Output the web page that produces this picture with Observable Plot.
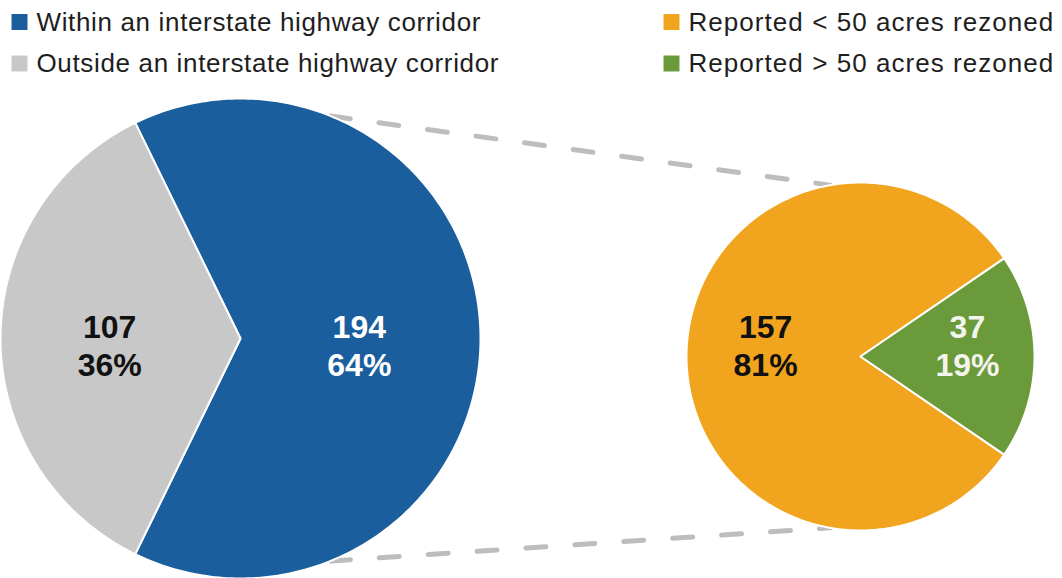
<!DOCTYPE html>
<html><head><meta charset="utf-8">
<script src="https://cdn.jsdelivr.net/npm/d3@7"></script>
<script src="https://cdn.jsdelivr.net/npm/@observablehq/plot@0.6"></script>
<style>
html,body{margin:0;padding:0;background:#fff;overflow:hidden;}
#chart svg{display:block;}
</style></head><body><div id="chart"></div>
<script>
// ---- data ----
const mainCategories = ["Within an interstate highway corridor", "Outside an interstate highway corridor"];
const mainValues = [194, 107];
const mainColors = ["#1b5e9e", "#c8c8c8"];
const subCategories = ["Reported < 50 acres rezoned", "Reported > 50 acres rezoned"];
const subValues = [157, 37];
const subColors = ["#f1a51e", "#6b9a3a"];

// ---- layout ----
const W = 1062, H = 578;
const leftPie = {cx: 240, cy: 338, r: 240, focus: 1, focusAngle: 180, labelR: 0.52};
const rightPie = {cx: 860, cy: 356, r: 174, focus: 1, focusAngle: 0, labelR: 0.58};
const rad = d => d * Math.PI / 180;

function buildPie(cats, vals, pie) {
  const total = d3.sum(vals);
  const fv = vals[pie.focus];
  const half = fv / total * 180;
  const ranges = [];
  ranges[pie.focus] = [pie.focusAngle - half, pie.focusAngle + half];
  const other = 1 - pie.focus;
  ranges[other] = [pie.focusAngle + half, pie.focusAngle - half + 360];
  const pts = [], labels = [];
  cats.forEach((c, i) => {
    const [a0, a1] = ranges[i];
    pts.push({cat: c, x: pie.cx, y: pie.cy});
    const n = Math.ceil(a1 - a0);
    for (let k = 0; k <= n; k++) {
      const a = rad(a0 + (a1 - a0) * k / n);
      pts.push({cat: c, x: pie.cx + pie.r * Math.cos(a), y: pie.cy + pie.r * Math.sin(a)});
    }
    const m = rad((a0 + a1) / 2);
    labels.push({
      cat: c,
      x: pie.cx + pie.labelR * pie.r * Math.cos(m),
      y: pie.cy + pie.labelR * pie.r * Math.sin(m),
      text: `${vals[i]}\n${Math.round(vals[i] / total * 100)}%`
    });
  });
  return {pts, labels};
}

const L = buildPie(mainCategories, mainValues, leftPie);
const R = buildPie(subCategories, subValues, rightPie);

const onPie = (p, deg) => [p.cx + p.r * Math.cos(rad(deg)), p.cy + p.r * Math.sin(rad(deg))];
const connectors = [[-68, -100], [68, 100]].map(([a, b]) => {
  const [x1, y1] = onPie(leftPie, a), [x2, y2] = onPie(rightPie, b);
  return {x1, y1, x2, y2};
});

const legendItems = [
  ...mainCategories.map((c, i) => ({cat: c, col: 0, row: i})),
  ...subCategories.map((c, i) => ({cat: c, col: 1, row: i}))
];
const legendX = [19, 671];
const legendRow = i => 21.5 + i * 41.5;

const darkText = new Set([mainCategories[1], subCategories[0]]);

const chart = Plot.plot({
  width: W, height: H,
  margin: 0,
  style: {fontFamily: "'Liberation Sans', Arial, Helvetica, sans-serif", background: "#fff"},
  x: {domain: [0, W], range: [0, W], axis: null},
  y: {domain: [0, H], range: [0, H], axis: null},
  color: {domain: [...mainCategories, ...subCategories], range: [...mainColors, ...subColors]},
  marks: [
    Plot.link(connectors, {x1: "x1", y1: "y1", x2: "x2", y2: "y2", stroke: "#bdbdbd", strokeWidth: 5, strokeDasharray: "20,29", strokeLinecap: "round"}),
    Plot.line(L.pts, {x: "x", y: "y", z: "cat", fill: "cat", stroke: "white", strokeWidth: 2, curve: "linear-closed"}),
    Plot.line(R.pts, {x: "x", y: "y", z: "cat", fill: "cat", stroke: "white", strokeWidth: 2, curve: "linear-closed"}),
    Plot.text(L.labels, {x: "x", y: "y", text: "text", dx: -6, dy: 6, fontSize: 32, fontWeight: "bold", lineHeight: 1.2,
      fill: d => darkText.has(d.cat) ? "#111" : "#fff"}),
    Plot.text(R.labels, {x: "x", y: "y", text: "text", dx: 6, dy: -12, fontSize: 32, fontWeight: "bold", lineHeight: 1.2,
      fill: d => darkText.has(d.cat) ? "#111" : "#f4f4ee"}),
    Plot.dot(legendItems, {x: d => legendX[d.col], y: d => legendRow(d.row), symbol: "square", r: 9, fill: "cat", stroke: "none"}),
    Plot.text(legendItems, {x: d => legendX[d.col] + 17, y: d => legendRow(d.row) + 0.5, text: "cat", textAnchor: "start", fontSize: 26, fill: "#1e1e1e"})
  ]
});
d3.select(chart).selectAll("g[font-size='26'] text")
  .style("letter-spacing", function() { return subCategories.includes(this.textContent) ? "1.05px" : "0.65px"; });
document.getElementById("chart").appendChild(chart);
</script></body></html>
